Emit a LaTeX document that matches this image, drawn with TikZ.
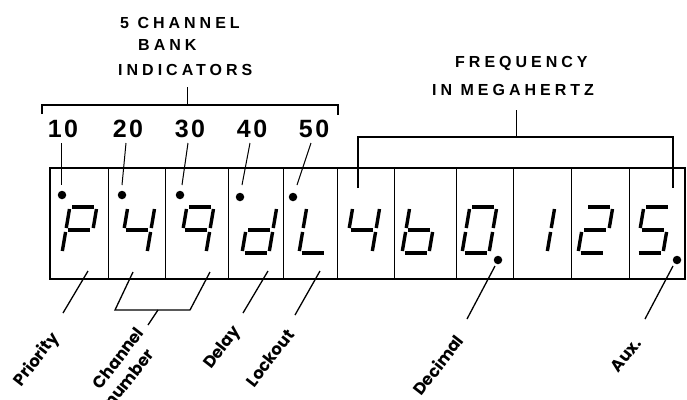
\documentclass[tikz,border=0pt]{standalone}
\usepackage{fontspec}
\setmainfont{Liberation Sans}
\newfontfamily\hdrfont[LetterSpace=25]{Liberation Sans}
\newfontfamily\numfont[LetterSpace=10]{Liberation Sans}
\newfontfamily\lblfont{Poppins}
\newcommand\segA{\draw[seg] (2.5,-46)--(24.5,-46);}
\newcommand\segB{\draw[seg] (27,-44)--(27,-25);}
\newcommand\segC{\draw[seg] (27,-21)--(27,-2);}
\newcommand\segD{\draw[seg] (2.5,0)--(24.5,0);}
\newcommand\segE{\draw[seg] (0,-21)--(0,-2);}
\newcommand\segF{\draw[seg] (0,-44)--(0,-25);}
\newcommand\segG{\draw[seg] (2.5,-23)--(24.5,-23);}
\newcommand\digitat[2]{\begin{scope}[shift={(#1,253)},xslant=0.17]#2\end{scope}}
\begin{document}
\begin{tikzpicture}[x=1pt,y=-1pt,
  seg/.style={line width=3.4pt,line cap=butt},
  frame/.style={line width=1.5pt},
  divider/.style={line width=1pt},
  leader/.style={line width=1.3pt},
  hdr/.style={inner sep=0pt,anchor=base west,font=\hdrfont\bfseries\fontsize{16}{17}\selectfont},
  num/.style={inner sep=0pt,anchor=base,font=\numfont\bfseries\fontsize{25}{26}\selectfont},
  lbl/.style={inner sep=0pt,rotate=52,font=\lblfont\bfseries\fontsize{16.5}{17}\selectfont},
  dot/.style={fill=black,circle,inner sep=0pt,minimum size=8.5pt}]
\useasboundingbox (0,0) rectangle (687,399);
\fill[white] (0,0) rectangle (687,399);

% display frame and cells
\draw[frame] (50,168) rectangle (685,279);
\foreach \x in {108,165,228,283,337,394,456,513,571,629}
  \draw[divider] (\x,168) -- (\x,279);

% seven-segment characters
\digitat{62}{\segA\segB\segF\segG\segE}
\digitat{120}{\segF\segG\segB\segC}
\digitat{179}{\segA\segB\segC\segF\segG}
\digitat{242}{\segB\segC\segD\segE\segG}
\digitat{299}{\segF\segE\segD}
\digitat{345}{\segF\segG\segB\segC}
\digitat{402}{\segF\segE\segD\segC\segG}
\digitat{462}{\segA\segB\segC\segD\segE\segF}
\digitat{520}{\segB\segC}
\digitat{578}{\segA\segB\segG\segE\segD}
\digitat{636}{\segA\segF\segG\segC\segD}

% indicator dots
\node[dot] (d1) at (62,195) {};
\node[dot] (d2) at (122,195) {};
\node[dot] (d3) at (180,195) {};
\node[dot] (d4) at (240,197) {};
\node[dot] (d5) at (293,197) {};
\node[dot] (dp) at (498,260) {};
\node[dot] (dx) at (677,260) {};

% header texts
\node[hdr] (h1) at (120,28) {5 CHANNEL};
\node[hdr] (h2) at (138,50) {BANK};
\node[hdr] (h3) at (118,75) {INDICATORS};
\node[hdr] (f1) at (455,67) {FREQUENCY};
\node[hdr] (f2) at (432,95) {IN MEGAHERTZ};

% bank numbers
\node[num] (n10) at (63,137) {10};
\node[num] (n20) at (128,137) {20};
\node[num] (n30) at (190,137) {30};
\node[num] (n40) at (252,137) {40};
\node[num] (n50) at (314,137) {50};

% leaders from numbers to dots
\coordinate (t10) at (61,143); \coordinate (b10) at (61,185);
\coordinate (t20) at (126,143); \coordinate (b20) at (122,185);
\coordinate (t30) at (188,143); \coordinate (b30) at (182,185);
\coordinate (t40) at (250,143); \coordinate (b40) at (242,185);
\coordinate (t50) at (311,143); \coordinate (b50) at (297,185);
\foreach \n in {10,20,30,40,50} \draw[divider] (t\n) -- (b\n);

% bank bracket
\coordinate (bl) at (42,114); \coordinate (br) at (338,115);
\coordinate (bs) at (187,105); \coordinate (bt) at (187,87);
\draw[leader] (bl) |- (bs) -| (br);
\draw[divider] (bs) -- (bt);

% frequency bracket
\coordinate (fl) at (358,188); \coordinate (fr) at (673,188);
\coordinate (fs) at (516,137); \coordinate (ft) at (516,110);
\draw[leader] (fl) |- (fs) -| (fr);
\draw[divider] (fs) -- (ft);

% bottom labels
\node[lbl] (lp) at (37,360) {Priority};
\node[lbl] (lc) at (118,358) {Channel};
\node[lbl] (ln) at (129,378) {number};
\node[lbl] (ld) at (223,348) {Delay};
\node[lbl] (ll) at (270,358) {Lockout};
\node[lbl] (lm) at (438,365) {Decimal};
\node[lbl] (la) at (626,355) {Aux.};

% bottom leaders
\coordinate (pp1) at (88,271); \coordinate (pp2) at (63,313);
\draw[leader] (pp1) -- (pp2);
\coordinate (c1) at (133,272); \coordinate (c2) at (115,310);
\coordinate (c3) at (190,310); \coordinate (c4) at (210,272);
\coordinate (c5) at (158,310); \coordinate (c6) at (148,325);
\draw[leader] (c1) -- (c2) -- (c3) -- (c4);
\draw[leader] (c5) -- (c6);
\coordinate (dl1) at (268,271); \coordinate (dl2) at (243,313);
\draw[leader] (dl1) -- (dl2);
\coordinate (lo1) at (320,271); \coordinate (lo2) at (295,315);
\draw[leader] (lo1) -- (lo2);
\coordinate (de1) at (495,266); \coordinate (de2) at (467,319);
\draw[leader] (de1) -- (de2);
\coordinate (au1) at (673,266); \coordinate (au2) at (645,319);
\draw[leader] (au1) -- (au2);
\end{tikzpicture}
\end{document}
